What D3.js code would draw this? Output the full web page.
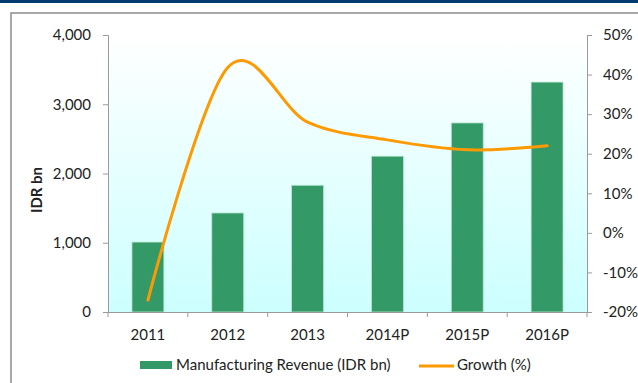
<!DOCTYPE html>
<html>
<head>
<meta charset="utf-8">
<script src="https://cdn.jsdelivr.net/npm/d3@7"></script>
<style>
  body { margin: 0; background: #fff; }
  svg text { font-family: Lato, "Open Sans", sans-serif; fill: #222; }
</style>
</head>
<body>
<svg id="chart" width="638" height="383"></svg>
<script>
// chart data
var years = ["2011", "2012", "2013", "2014P", "2015P", "2016P"];
var revenue = [1010, 1430, 1830, 2250, 2730, 3320];
var growth = [-17, 41.8, 28, 23.5, 21, 22];
var leftTicks = [0, 1000, 2000, 3000, 4000];
var rightTicks = [-20, -10, 0, 10, 20, 30, 40, 50];

var svg = d3.select("#chart");
var plot = {left: 108, right: 587, top: 35, bottom: 312};

// frame: navy band on top and grey box
svg.append("rect").attr("x", 0).attr("y", 0).attr("width", 638).attr("height", 3).attr("fill", "#003a70");
svg.append("rect").attr("x", 11).attr("y", 13).attr("width", 700).attr("height", 500)
	.attr("fill", "none").attr("stroke", "#8c8c8c").attr("stroke-width", 1.5);

// plot background gradient
var grad = svg.append("defs").append("linearGradient").attr("id", "bg")
	.attr("x1", 0).attr("y1", 0).attr("x2", 0).attr("y2", 1);
grad.append("stop").attr("offset", "0%").attr("stop-color", "#ffffff");
grad.append("stop").attr("offset", "100%").attr("stop-color", "#ccffff");
svg.append("rect").attr("x", plot.left).attr("y", plot.top)
	.attr("width", plot.right - plot.left).attr("height", plot.bottom - plot.top)
	.attr("fill", "url(#bg)");

var xs = d3.scaleBand().domain(years).range([plot.left, plot.right]).paddingInner(0.6).paddingOuter(0.3);
var xb = d3.scaleBand().domain(years).range([plot.left, plot.right]);
var ys = d3.scaleLinear().domain([0, 4000]).range([plot.bottom, plot.top]);
var ys2 = d3.scaleLinear().domain([-20, 50]).range([plot.bottom, plot.top]);

// bars
svg.append("g").selectAll("rect").data(years).enter().append("rect")
	.attr("x", function(d) { return xs(d); })
	.attr("y", function(d, i) { return ys(revenue[i]); })
	.attr("width", xs.bandwidth())
	.attr("height", function(d, i) { return ys(0) - ys(revenue[i]); })
	.attr("fill", "#339966")
	.attr("stroke", "#b8e6d0").attr("stroke-width", 0.8);

// growth line (smoothed like Excel)
svg.append("path")
	.datum(years)
	.attr("fill", "none")
	.attr("stroke", "#ff9900")
	.attr("stroke-width", 3)
	.attr("stroke-linecap", "round")
	.attr("d", d3.line()
		.curve(d3.curveCatmullRom.alpha(0))
		.x(function(d) { return xb(d) + xb.bandwidth() / 2; })
		.y(function(d, i) { return ys2(growth[i]); }));

// axes
var axisColor = "#9a9a9a";
var gl = svg.append("g").attr("transform", "translate(" + plot.left + ",0)")
	.call(d3.axisLeft(ys).tickValues(leftTicks).tickSize(5).tickPadding(12).tickFormat(d3.format(",")));
var gr = svg.append("g").attr("transform", "translate(" + plot.right + ",0)")
	.call(d3.axisRight(ys2).tickValues(rightTicks).tickSize(5).tickPadding(11).tickFormat(function(d) { return d + "%"; }));
var gb = svg.append("g").attr("transform", "translate(0," + plot.bottom + ")")
	.call(d3.axisBottom(xb).tickSize(0).tickPadding(17));
// category separators on the x axis
gb.selectAll(".sep").data(years.concat(["end"])).enter().append("line")
	.attr("x1", function(d, i) { return plot.left + i * xb.step(); })
	.attr("x2", function(d, i) { return plot.left + i * xb.step(); })
	.attr("y1", 0).attr("y2", 5).attr("stroke", axisColor);

[gl, gr, gb].forEach(function(g) {
	g.select(".domain").attr("stroke", axisColor);
	g.selectAll(".tick line").attr("stroke", axisColor);
	g.selectAll("text").attr("font-size", "15px").attr("fill", "#222")
		.attr("font-family", "Lato, 'Open Sans', sans-serif");
});

// y axis title
svg.append("text")
	.attr("transform", "translate(42,190) rotate(-90)")
	.attr("text-anchor", "middle")
	.attr("font-size", "15px")
	.attr("font-weight", "bold")
	.text("IDR bn");

// legend
var lg = svg.append("g");
lg.append("rect").attr("x", 140).attr("y", 361).attr("width", 32).attr("height", 8).attr("fill", "#339966");
lg.append("text").attr("x", 176).attr("y", 370).attr("font-size", "15px").text("Manufacturing Revenue (IDR bn)");
lg.append("line").attr("x1", 419).attr("x2", 454).attr("y1", 366).attr("y2", 366)
	.attr("stroke", "#ff9900").attr("stroke-width", 3);
lg.append("text").attr("x", 457).attr("y", 370).attr("font-size", "15px").text("Growth (%)");
</script>
</body>
</html>
